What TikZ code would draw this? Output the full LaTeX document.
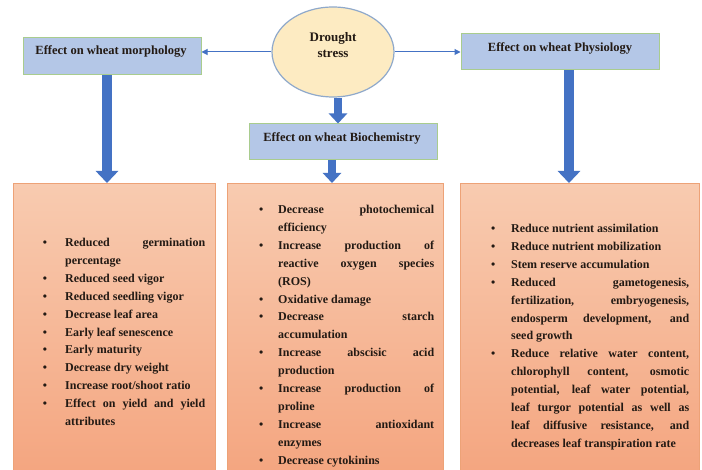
\documentclass[tikz,border=0pt]{standalone}
\usepackage{fontspec}
\setmainfont{Liberation Serif}
\usepackage{enumitem}
\usetikzlibrary{arrows.meta,shapes.geometric}
\definecolor{boxblue}{HTML}{B4C7E7}
\definecolor{boxgreen}{HTML}{A9CC8E}
\definecolor{circfill}{HTML}{FDEBC2}
\definecolor{circline}{HTML}{8FA9CB}
\definecolor{arrowblue}{HTML}{4472C4}
\definecolor{salmontop}{HTML}{F8CBB0}
\definecolor{salmonbot}{HTML}{F4A47E}
\definecolor{salmonline}{HTML}{EDA277}
\definecolor{txt}{HTML}{231A14}
\setlist[itemize]{label=\textbullet,nosep}
\begin{document}
\begin{tikzpicture}[x=1pt,y=-1pt,
  bluebox/.style={draw=boxgreen,line width=1pt,fill=boxblue,inner sep=0pt},
  headtext/.style={font=\fontsize{12.5}{14}\selectfont\bfseries,text=txt,inner sep=0pt},
  bottombox/.style={draw=salmonline,line width=1pt,top color=salmontop,bottom color=salmonbot,inner sep=0pt,anchor=north west},
  listtext/.style={font=\fontsize{12}{17.9}\selectfont\bfseries,text=txt,inner sep=0pt,anchor=north west,align=justify},
  thinarrow/.style={draw=arrowblue,line width=1pt,-{Triangle[width=6pt,length=6pt]}},
  bigarrow/.style={draw=arrowblue,line width=10pt,-{Triangle[width=22pt,length=12pt]}},
  midarrow/.style={draw=arrowblue,line width=8pt,-{Triangle[width=18pt,length=10pt]}}
]
\useasboundingbox (0,0) rectangle (702,470);
\clip (0,0) rectangle (702,470);
\fill[white] (0,0) rectangle (702,470);

% top boxes
\node[bluebox,minimum width=178pt,minimum height=37pt] (morph) at (112,56.5) {};
\node[headtext] (morphT) at (111,51.5) {Effect on wheat morphology};
\node[bluebox,minimum width=198pt,minimum height=36pt] (phys) at (560,52) {};
\node[headtext] (physT) at (560,48) {Effect on wheat Physiology};
\node[bluebox,minimum width=188pt,minimum height=36pt] (bio) at (343,142) {};
\node[headtext] (bioT) at (342,138) {Effect on wheat Biochemistry};

% circle
\node[ellipse,draw=circline,line width=1.2pt,fill=circfill,minimum width=122pt,minimum height=90pt,inner sep=0pt] (drought) at (333,52) {};
\node[font=\fontsize{13}{16}\selectfont\bfseries,text=txt,align=center,inner sep=0pt] (droughtT) at (333,45) {Drought\\stress};

% bottom boxes
\node[bottombox,minimum width=202pt,minimum height=300pt] (left) at (13,183) {};
\node[bottombox,minimum width=216pt,minimum height=300pt] (mid) at (227,183) {};
\node[bottombox,minimum width=239pt,minimum height=300pt] (right) at (460,183) {};

% arrows
\draw[thinarrow] (drought.west) -- (drought.west -| morph.east);
\draw[thinarrow] (drought.east) -- (drought.east -| phys.west);
\draw[bigarrow] ([xshift=-5pt]morph.south) -- ([xshift=-5pt]morph.south |- left.north);
\draw[bigarrow] ([xshift=9pt]phys.south) -- ([xshift=9pt]phys.south |- right.north);
\draw[midarrow] ([xshift=5pt]drought.south) -- ([xshift=5pt]drought.south |- bio.north);
\draw[midarrow] ([xshift=-11pt]bio.south) -- ([xshift=-11pt]bio.south |- mid.north);

% list texts
\node[listtext,text width=165pt] (leftT) at (40,228.5) {%
\begin{itemize}[leftmargin=25pt,labelsep=18pt]
\item Reduced germination\linebreak percentage
\item Reduced seed vigor
\item Reduced seedling vigor
\item Decrease leaf area
\item Early leaf senescence
\item Early maturity
\item Decrease dry weight
\item Increase root/shoot ratio
\item Effect on yield and yield\linebreak attributes
\end{itemize}};

\node[listtext,text width=178pt] (midT) at (256,195.5) {%
\begin{itemize}[leftmargin=22pt,labelsep=15pt]
\item Decrease photochemical\linebreak efficiency
\item Increase production of\linebreak reactive oxygen species\linebreak (ROS)
\item Oxidative damage
\item Decrease starch\linebreak accumulation
\item Increase abscisic acid\linebreak production
\item Increase production of\linebreak proline
\item Increase antioxidant\linebreak enzymes
\item Decrease cytokinins
\end{itemize}};

\node[listtext,text width=201pt] (rightT) at (488,214.5) {%
\begin{itemize}[leftmargin=23pt,labelsep=16pt]
\item Reduce nutrient assimilation
\item Reduce nutrient mobilization
\item Stem reserve accumulation
\item Reduced gametogenesis,\linebreak fertilization, embryogenesis,\linebreak endosperm development, and\linebreak seed growth
\item Reduce relative water content,\linebreak chlorophyll content, osmotic\linebreak potential, leaf water potential,\linebreak leaf turgor potential as well as\linebreak leaf diffusive resistance, and\linebreak decreases leaf transpiration rate
\end{itemize}};
\end{tikzpicture}
\end{document}
